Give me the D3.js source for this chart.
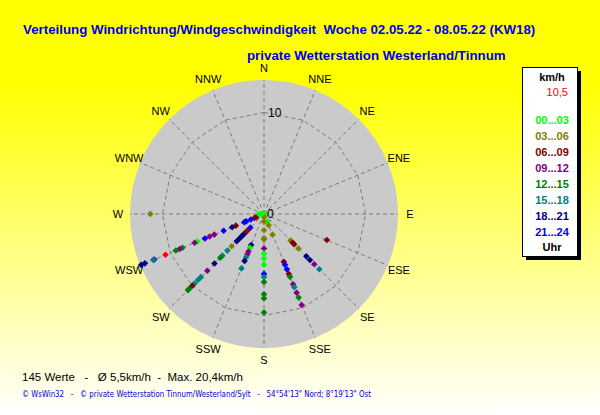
<!DOCTYPE html>
<html>
<head>
<meta charset="utf-8">
<script src="https://cdn.jsdelivr.net/npm/d3@7"></script>
<style>
  body { margin: 0; }
  svg { display: block; font-family: 'Liberation Sans', Arial, sans-serif; }
</style>
</head>
<body>
<div id="screen"></div>
<script>
// Windrichtungen (16 Sektoren)
const directions = ['N', 'NNE', 'NE', 'ENE', 'E', 'ESE', 'SE', 'SSE', 'S', 'SSW', 'SW', 'WSW', 'W', 'WNW', 'NW', 'NNW']
// Stundenklassen der Legende
const hourBins = ['00...03', '03...06', '06...09', '09...12', '12...15', '15...18', '18...21', '21...24']
const binColors = ['#00ff00', '#808000', '#800000', '#800080', '#008000', '#008080', '#000080', '#0000ff']
const ringTicks = [10]

// Messwerte je Richtung: [km/h, Stundenklasse]
const valuesN = [[0.05, 0]]
const valuesESE = [[6.7, 2]]
const valuesSE = [[3.7, 1], [4.0, 2], [4.2, 2], [4.8, 1], [5.9, 6], [6.4, 6], [7.0, 3], [7.7, 5]]
const valuesSSE = [[0.8, 0], [1.2, 1], [2.2, 1], [5.1, 2], [5.4, 7], [5.9, 7], [6.4, 2], [6.7, 4], [7.5, 3], [7.8, 5], [8.4, 3], [8.9, 4], [9.7, 3]]
const valuesS = [[0.3, 1], [0.75, 1], [1.6, 1], [2.4, 1], [2.5, 1], [3.4, 3], [3.9, 0], [4.4, 0], [5.0, 0], [5.9, 7], [6.2, 5], [6.7, 4], [7.9, 4], [8.3, 4], [9.7, 4]]
const valuesSSW = [[3.3, 6], [3.6, 0], [4.0, 3], [4.3, 3], [4.6, 5], [5.0, 6], [5.8, 5]]
const valuesSW = [[1.9, 7], [2.3, 2], [2.5, 3], [2.7, 2], [2.9, 6], [3.1, 6], [3.4, 6], [3.8, 6], [4.5, 1], [5.1, 5], [5.8, 5], [6.1, 4], [6.9, 6], [7.9, 3], [8.8, 5], [9.2, 5], [9.7, 5], [10.0, 2], [10.4, 4], [10.6, 4]]
const valuesWSW = [[0.8, 2], [1.0, 2], [1.4, 7], [1.9, 7], [2.1, 7], [3.0, 2], [3.4, 6], [4.3, 7], [5.3, 3], [5.8, 3], [6.3, 7], [7.1, 0], [7.4, 3], [8.7, 4], [9.0, 3], [9.4, 4], [11.7, 7], [11.8, 5], [12.7, 6], [13.1, 6]]
const valuesW = [[11.2, 1], [0.5, 0], [0.2, 0]]
const currentDir = 'WSW'
const currentKmh = 10.5

const titleText = 'Verteilung Windrichtung/Windgeschwindigkeit  Woche 02.05.22 - 08.05.22 (KW18)'
const subTitleText = 'private Wetterstation Westerland/Tinnum'
const statsText = '145 Werte   -   Ø 5,5km/h  -  Max. 20,4km/h'
const footerText = '© WsWin32   -   © private Wetterstation Tinnum/Westerland/Sylt   -   54°54\'13" Nord; 8°19\'13" Ost'

const readings = [
  ['N', valuesN], ['ESE', valuesESE], ['SE', valuesSE], ['SSE', valuesSSE], ['S', valuesS],
  ['SSW', valuesSSW], ['SW', valuesSW], ['WSW', valuesWSW], ['W', valuesW]
].flatMap(([dir, vals]) => vals.map(v => ({ dir, kmh: v[0], bin: v[1] })))

const width = 600
const height = 415
const cx = 264
const cy = 214
const outerR = 134

const svg = d3.select('#screen').append('svg')
  .attr('width', width)
  .attr('height', height)

// Hintergrund: Verlauf gelb -> weiss
const defs = svg.append('defs')
const grad = defs.append('linearGradient')
  .attr('id', 'bg')
  .attr('x1', 0).attr('y1', 0).attr('x2', 0).attr('y2', 1)
grad.append('stop').attr('offset', '0%').attr('stop-color', '#ffff00')
grad.append('stop').attr('offset', '20%').attr('stop-color', '#ffff00')
grad.append('stop').attr('offset', '100%').attr('stop-color', '#ffffff')

svg.append('rect')
  .attr('width', width)
  .attr('height', height)
  .attr('fill', 'url(#bg)')

const angle = d3.scaleLinear()
  .domain([0, directions.length])
  .range([0, 2 * Math.PI])
const r = d3.scaleLinear()
  .domain([0, 13.2])
  .range([0, outerR])
  .clamp(true)

const plot = svg.append('g').attr('transform', `translate(${cx},${cy})`)

plot.append('circle')
  .attr('r', outerR)
  .attr('fill', '#cacaca')

// Speichen
plot.selectAll('line.spoke')
  .data(directions)
  .join('line')
  .attr('class', 'spoke')
  .attr('x1', 0).attr('y1', 0)
  .attr('x2', (d, i) => d3.pointRadial(angle(i), outerR)[0])
  .attr('y2', (d, i) => d3.pointRadial(angle(i), outerR)[1])
  .attr('stroke', '#7a7a7a')
  .attr('stroke-dasharray', '4,3')

// Ring bei 10 km/h (Polygon)
const ringLine = d3.lineRadial()
  .angle((d, i) => angle(i))
  .curve(d3.curveLinearClosed)
ringTicks.forEach(t => {
  plot.append('path')
    .attr('d', ringLine.radius(r(t))(directions))
    .attr('fill', 'none')
    .attr('stroke', '#7a7a7a')
    .attr('stroke-dasharray', '4,3')
  plot.append('text')
    .attr('x', 4)
    .attr('y', -r(t))
    .attr('dy', '0.35em')
    .attr('font-size', '12px')
    .text(t)
})

plot.append('text')
  .attr('x', 3)
  .attr('y', 0)
  .attr('dy', '0.35em')
  .attr('font-size', '12px')
  .text('0')

// Richtungsbeschriftung
plot.selectAll('text.dir')
  .data(directions)
  .join('text')
  .attr('class', 'dir')
  .attr('x', (d, i) => d3.pointRadial(angle(i), 146)[0])
  .attr('y', (d, i) => d3.pointRadial(angle(i), 146)[1])
  .attr('dy', '0.36em')
  .attr('text-anchor', 'middle')
  .attr('font-size', '11px')
  .text(d => d)

// Messpunkte
const marker = 'M0,-3.3L3.3,0L0,3.3L-3.3,0Z'
const pos = d => d3.pointRadial(angle(directions.indexOf(d.dir)), r(d.kmh))
plot.selectAll('path.pt')
  .data(readings)
  .join('path')
  .attr('class', 'pt')
  .attr('d', marker)
  .attr('transform', d => `translate(${pos(d)})`)
  .attr('fill', d => binColors[d.bin])

plot.append('path')
  .attr('d', marker)
  .attr('transform', `translate(${pos({ dir: currentDir, kmh: currentKmh })})`)
  .attr('fill', '#ff0000')

// Titel
svg.append('text')
  .attr('x', 23)
  .attr('y', 34)
  .attr('font-size', '13.3px')
  .attr('font-weight', 'bold')
  .attr('fill', '#0000ee')
  .style('white-space', 'pre')
  .text(titleText)

svg.append('text')
  .attr('x', 247)
  .attr('y', 60)
  .attr('font-size', '13.3px')
  .attr('font-weight', 'bold')
  .attr('fill', '#0000ee')
  .text(subTitleText)

// Legende
const lg = svg.append('g').attr('transform', 'translate(522,67)')
lg.append('rect')
  .attr('x', 4).attr('y', 4)
  .attr('width', 55).attr('height', 189)
  .attr('fill', '#000')
lg.append('rect')
  .attr('x', 0.5).attr('y', 0.5)
  .attr('width', 55).attr('height', 189)
  .attr('fill', '#fff')
  .attr('stroke', '#000')
lg.append('text')
  .attr('x', 30).attr('y', 10).attr('dy', '0.35em')
  .attr('text-anchor', 'middle')
  .attr('font-size', '11px').attr('font-weight', 'bold')
  .text('km/h')
lg.append('text')
  .attr('x', 46).attr('y', 25).attr('dy', '0.35em')
  .attr('text-anchor', 'end')
  .attr('font-size', '11px')
  .attr('fill', '#ff0000')
  .text(String(currentKmh).replace('.', ','))
const legendY = d3.scalePoint()
  .domain(hourBins)
  .range([53, 165])
lg.selectAll('text.bin')
  .data(hourBins)
  .join('text')
  .attr('class', 'bin')
  .attr('x', 30)
  .attr('y', d => legendY(d))
  .attr('dy', '0.35em')
  .attr('text-anchor', 'middle')
  .attr('font-size', '11px').attr('font-weight', 'bold')
  .attr('fill', (d, i) => binColors[i])
  .text(d => d)
lg.append('text')
  .attr('x', 30).attr('y', 180).attr('dy', '0.35em')
  .attr('text-anchor', 'middle')
  .attr('font-size', '11px').attr('font-weight', 'bold')
  .text('Uhr')

// Fusszeilen
svg.append('text')
  .attr('x', 22)
  .attr('y', 381)
  .attr('font-size', '11.5px')
  .style('white-space', 'pre')
  .text(statsText)

svg.append('text')
  .attr('x', 22)
  .attr('y', 397)
  .attr('font-size', '9px')
  .attr('font-family', "'DejaVu Sans', sans-serif")
  .attr('fill', '#0000dd')
  .attr('textLength', 349)
  .attr('lengthAdjust', 'spacingAndGlyphs')
  .style('white-space', 'pre')
  .text(footerText)
</script>
</body>
</html>
